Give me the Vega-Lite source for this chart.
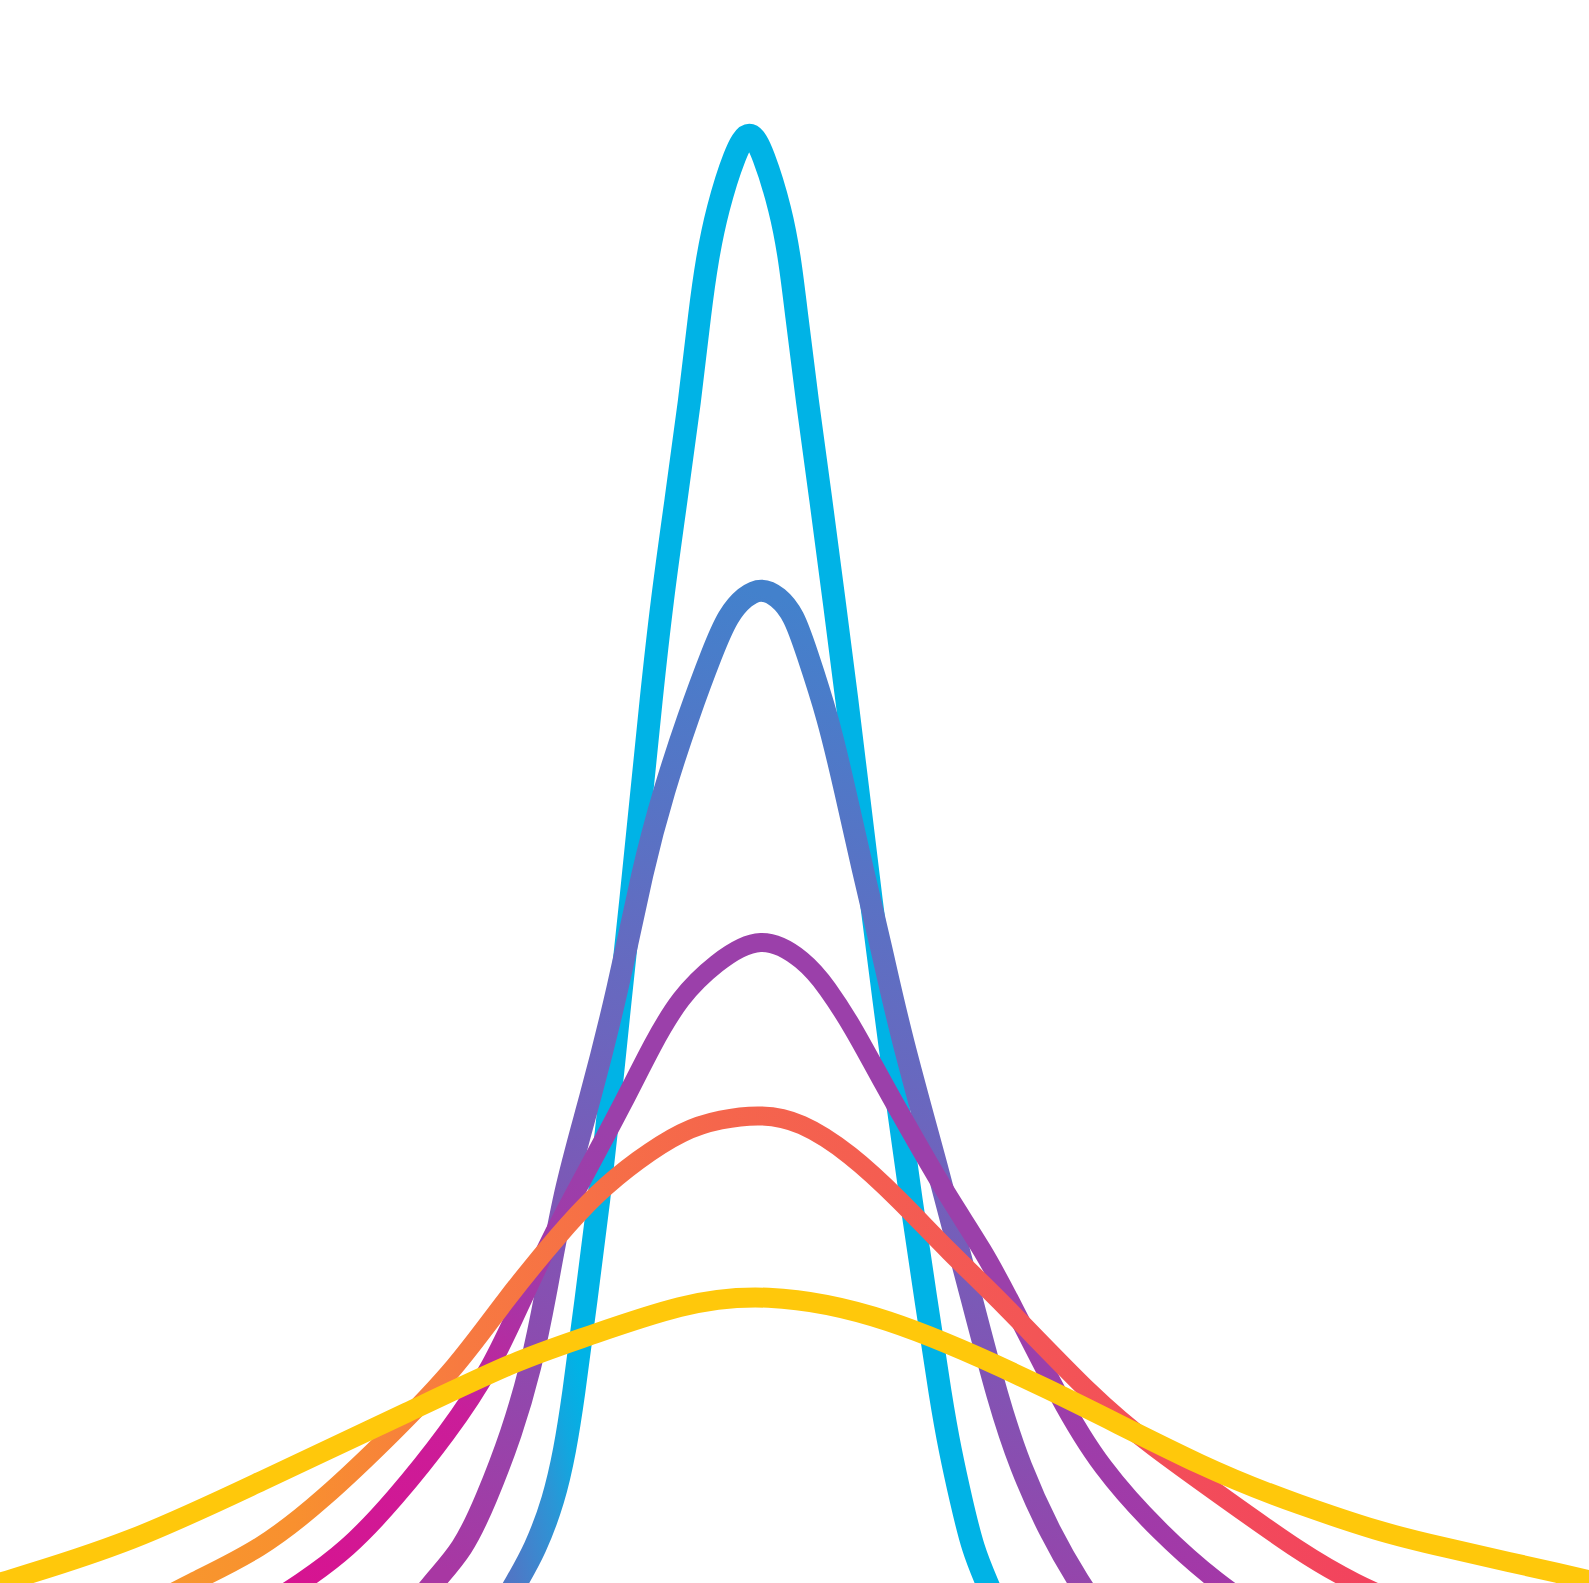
{
  "$schema": "https://vega.github.io/schema/vega-lite/v6.json",
  "width": 1589,
  "height": 1583,
  "autosize": {"type": "fit", "contains": "padding"},
  "padding": 0,
  "background": "white",
  "config": {"view": {"stroke": null}},
  "data": {"values": [
    {"curve":"c1","x":-26.7,"y":-3.7},{"curve":"c1","x":-24.6,"y":0},{"curve":"c1","x":-22.7,"y":3.3},{"curve":"c1","x":-20.8,"y":8.3},{"curve":"c1","x":-19.7,"y":13.3},{"curve":"c1","x":-18.9,"y":18.3},{"curve":"c1","x":-17.6,"y":28.3},{"curve":"c1","x":-16.3,"y":38.3},{"curve":"c1","x":-15.2,"y":48.3},{"curve":"c1","x":-14.2,"y":58.3},{"curve":"c1","x":-13.1,"y":68.3},{"curve":"c1","x":-12.1,"y":78.3},{"curve":"c1","x":-11.1,"y":88.3},{"curve":"c1","x":-10.0,"y":98.3},{"curve":"c1","x":-8.6,"y":108.3},{"curve":"c1","x":-7.2,"y":118.3},{"curve":"c1","x":-6.2,"y":127.3},{"curve":"c1","x":-5.5,"y":132.3},{"curve":"c1","x":-4.5,"y":137.3},{"curve":"c1","x":-2.7,"y":143.1},{"curve":"c1","x":-1.25,"y":145.6},{"curve":"c1","x":0.1,"y":143.1},{"curve":"c1","x":1.9,"y":137.3},{"curve":"c1","x":2.8,"y":132.3},{"curve":"c1","x":3.4,"y":127.3},{"curve":"c1","x":4.5,"y":118.3},{"curve":"c1","x":5.9,"y":108.3},{"curve":"c1","x":7.2,"y":98.3},{"curve":"c1","x":8.5,"y":88.3},{"curve":"c1","x":9.7,"y":78.3},{"curve":"c1","x":10.9,"y":68.3},{"curve":"c1","x":12.2,"y":58.3},{"curve":"c1","x":13.5,"y":48.3},{"curve":"c1","x":14.9,"y":38.3},{"curve":"c1","x":16.4,"y":28.3},{"curve":"c1","x":17.9,"y":18.3},{"curve":"c1","x":18.8,"y":13.3},{"curve":"c1","x":19.9,"y":8.3},{"curve":"c1","x":21.1,"y":3.3},{"curve":"c1","x":22.5,"y":0},{"curve":"c1","x":24.1,"y":-3.7},
    {"curve":"c2","x":-35.7,"y":-3.7},{"curve":"c2","x":-33.0,"y":0},{"curve":"c2","x":-29.9,"y":3.3},{"curve":"c2","x":-27.6,"y":8.3},{"curve":"c2","x":-25.0,"y":15.0},{"curve":"c2","x":-23.1,"y":21.6},{"curve":"c2","x":-21.7,"y":28.3},{"curve":"c2","x":-19.8,"y":39.3},{"curve":"c2","x":-17.2,"y":48.3},{"curve":"c2","x":-14.4,"y":59.3},{"curve":"c2","x":-11.9,"y":71.6},{"curve":"c2","x":-9.8,"y":79.3},{"curve":"c2","x":-7.4,"y":86.6},{"curve":"c2","x":-4.9,"y":93.3},{"curve":"c2","x":-3.4,"y":96.8},{"curve":"c2","x":-1.7,"y":98.7},{"curve":"c2","x":-0.1,"y":99.5},{"curve":"c2","x":1.6,"y":98.7},{"curve":"c2","x":3.2,"y":96.8},{"curve":"c2","x":4.4,"y":93.3},{"curve":"c2","x":6.6,"y":86.6},{"curve":"c2","x":8.3,"y":79.3},{"curve":"c2","x":10.0,"y":71.6},{"curve":"c2","x":12.0,"y":63.3},{"curve":"c2","x":13.8,"y":55.0},{"curve":"c2","x":17.8,"y":40.6},{"curve":"c2","x":21.0,"y":28.3},{"curve":"c2","x":23.6,"y":18.3},{"curve":"c2","x":25.8,"y":11.6},{"curve":"c2","x":28.8,"y":5.0},{"curve":"c2","x":31.7,"y":0},{"curve":"c2","x":34.3,"y":-3.7},
    {"curve":"c3","x":-50.7,"y":-2.9},{"curve":"c3","x":-46.1,"y":0},{"curve":"c3","x":-41.5,"y":3.3},{"curve":"c3","x":-36.8,"y":8.3},{"curve":"c3","x":-31.4,"y":15.0},{"curve":"c3","x":-27.0,"y":21.6},{"curve":"c3","x":-24.0,"y":28.3},{"curve":"c3","x":-20.7,"y":35.3},{"curve":"c3","x":-18.0,"y":40.3},{"curve":"c3","x":-13.7,"y":48.3},{"curve":"c3","x":-11.0,"y":53.8},{"curve":"c3","x":-8.2,"y":58.6},{"curve":"c3","x":-4.7,"y":62.0},{"curve":"c3","x":-0.1,"y":65.0},{"curve":"c3","x":4.3,"y":62.3},{"curve":"c3","x":6.5,"y":59.6},{"curve":"c3","x":9.1,"y":55.6},{"curve":"c3","x":12.1,"y":50.0},{"curve":"c3","x":15.5,"y":44.0},{"curve":"c3","x":18.8,"y":38.3},{"curve":"c3","x":22.1,"y":33.3},{"curve":"c3","x":24.8,"y":28.3},{"curve":"c3","x":29.8,"y":18.3},{"curve":"c3","x":33.8,"y":11.6},{"curve":"c3","x":39.8,"y":5.0},{"curve":"c3","x":45.5,"y":0},{"curve":"c3","x":50.3,"y":-3.2},
    {"curve":"c4","x":-62.2,"y":-2.7},{"curve":"c4","x":-57.2,"y":0},{"curve":"c4","x":-50.2,"y":3.3},{"curve":"c4","x":-43.9,"y":8.3},{"curve":"c4","x":-36.9,"y":15.0},{"curve":"c4","x":-30.5,"y":21.6},{"curve":"c4","x":-25.7,"y":28.3},{"curve":"c4","x":-20.2,"y":35.0},{"curve":"c4","x":-16.5,"y":39.0},{"curve":"c4","x":-12.5,"y":42.3},{"curve":"c4","x":-7.9,"y":45.3},{"curve":"c4","x":-4.2,"y":46.4},{"curve":"c4","x":0,"y":46.9},{"curve":"c4","x":3.8,"y":46.2},{"curve":"c4","x":8.8,"y":43.0},{"curve":"c4","x":13.8,"y":38.3},{"curve":"c4","x":18.8,"y":33.0},{"curve":"c4","x":23.8,"y":28.3},{"curve":"c4","x":33.3,"y":18.3},{"curve":"c4","x":38.8,"y":13.8},{"curve":"c4","x":46.5,"y":8.3},{"curve":"c4","x":53.8,"y":3.1},{"curve":"c4","x":59.1,"y":0},{"curve":"c4","x":65.8,"y":-2.9},
    {"curve":"c5","x":-82.2,"y":-1.7},{"curve":"c5","x":-76.2,"y":0},{"curve":"c5","x":-62.9,"y":4.1},{"curve":"c5","x":-50.7,"y":9.9},{"curve":"c5","x":-34.5,"y":17.5},{"curve":"c5","x":-24.5,"y":22.3},{"curve":"c5","x":-17.9,"y":24.5},{"curve":"c5","x":-7.9,"y":28.0},{"curve":"c5","x":0,"y":29.0},{"curve":"c5","x":11.8,"y":27.1},{"curve":"c5","x":28.5,"y":19.6},{"curve":"c5","x":45.1,"y":11.0},{"curve":"c5","x":53.8,"y":7.8},{"curve":"c5","x":61.8,"y":5.1},{"curve":"c5","x":67.1,"y":3.8},{"curve":"c5","x":80.5,"y":0.8},{"curve":"c5","x":87.8,"y":-0.9}
  ]},
  "encoding": {
    "x": {"field": "x", "type": "quantitative", "scale": {"domain": [-76.2, 82.7], "nice": false, "zero": false}, "axis": null},
    "y": {"field": "y", "type": "quantitative", "scale": {"domain": [0, 158.3], "nice": false, "zero": false}, "axis": null}
  },
  "layer": [
    {
      "transform": [{"filter": "datum.curve === 'c1'"}],
      "mark": {"type": "line", "clip": true, "interpolate": "basis", "strokeWidth": 23, "strokeCap": "round", "strokeJoin": "round",
        "stroke": {"gradient": "linear", "x1": 0, "y1": 1, "x2": 0.3, "y2": 0.8, "stops": [
          {"offset": 0, "color": "#5372C4"}, {"offset": 0.13, "color": "#4E78C6"}, {"offset": 0.25, "color": "#3E86CE"}, {"offset": 0.39, "color": "#2A96D6"}, {"offset": 0.52, "color": "#10A8E0"}, {"offset": 0.65, "color": "#00B3E6"}, {"offset": 1, "color": "#00B3E6"}]}}
    },
    {
      "transform": [{"filter": "datum.curve === 'c2'"}],
      "mark": {"type": "line", "clip": true, "interpolate": "basis", "strokeWidth": 22, "strokeCap": "round", "strokeJoin": "round",
        "stroke": {"gradient": "linear", "x1": 0.5, "y1": 0, "x2": 0.3, "y2": 1, "stops": [
          {"offset": 0, "color": "#4381CC"}, {"offset": 0.45, "color": "#6B66BE"}, {"offset": 0.75, "color": "#8A4DB0"}, {"offset": 1, "color": "#A837A3"}]}}
    },
    {
      "transform": [{"filter": "datum.curve === 'c3'"}],
      "mark": {"type": "line", "clip": true, "interpolate": "basis", "strokeWidth": 19, "strokeCap": "round", "strokeJoin": "round",
        "stroke": {"gradient": "linear", "x1": 0, "y1": 1, "x2": 0.45, "y2": 0.35, "stops": [
          {"offset": 0, "color": "#D9128F"}, {"offset": 0.45, "color": "#CA1D99"}, {"offset": 0.7, "color": "#A437A7"}, {"offset": 0.9, "color": "#9C3EAA"}, {"offset": 1, "color": "#9B40AA"}]}}
    },
    {
      "transform": [{"filter": "datum.curve === 'c4'"}],
      "mark": {"type": "line", "clip": true, "interpolate": "basis", "strokeWidth": 19, "strokeCap": "round", "strokeJoin": "round",
        "stroke": {"gradient": "linear", "x1": 0, "y1": 0, "x2": 1, "y2": 0, "stops": [
          {"offset": 0, "color": "#F8982D"}, {"offset": 0.12, "color": "#F8902F"}, {"offset": 0.25, "color": "#F77A40"}, {"offset": 0.45, "color": "#F5664C"}, {"offset": 0.7, "color": "#F35556"}, {"offset": 1, "color": "#F2405F"}]}}
    },
    {
      "transform": [{"filter": "datum.curve === 'c5'"}],
      "mark": {"type": "line", "clip": true, "interpolate": "basis", "strokeWidth": 20, "strokeCap": "round", "strokeJoin": "round", "stroke": "#FFC80B"}
    }
  ]
}
